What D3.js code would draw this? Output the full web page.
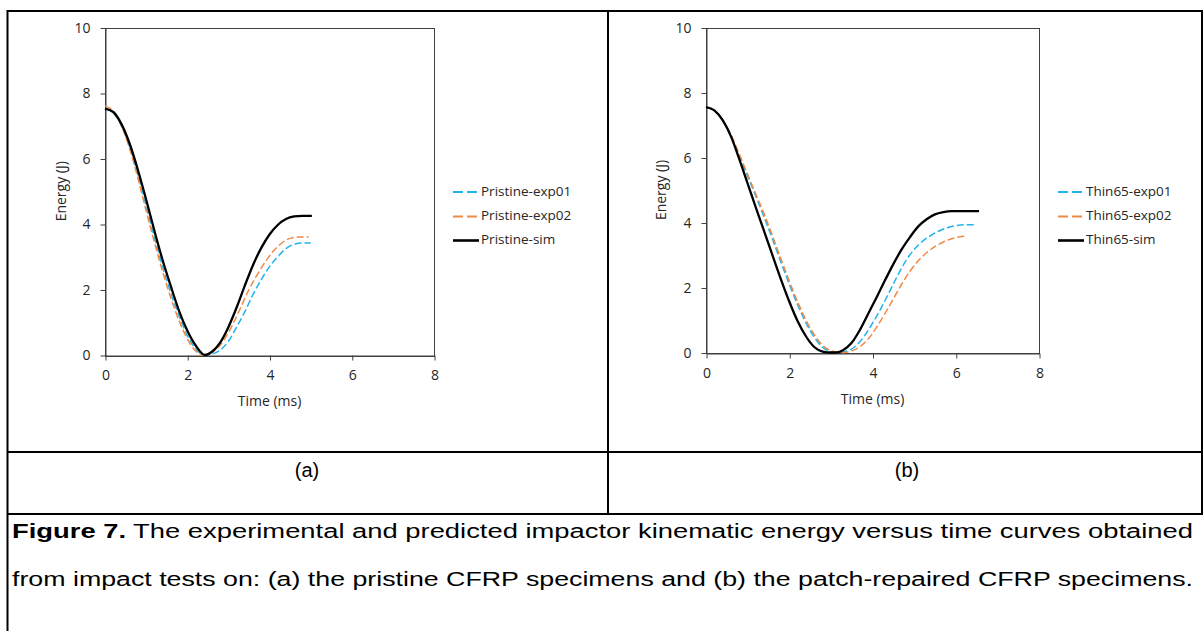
<!DOCTYPE html>
<html>
<head>
<meta charset="utf-8">
<script src="https://cdn.jsdelivr.net/npm/d3@7"></script>
<style>
  body { margin: 0; background: #fff; }
  svg { display: block; }
</style>
</head>
<body>
<script>
const width = 1203, height = 631;

// ---- data ----
const xTicks = [0, 2, 4, 6, 8];
const yTicks = [0, 2, 4, 6, 8, 10];

// (a) pristine specimens
const pristineExp01T = [0, 0.2, 0.4, 0.6, 0.8, 1.0, 1.2, 1.4, 1.6, 1.8, 2.0, 2.2, 2.4, 2.6, 2.8, 3.0, 3.2, 3.4, 3.6, 3.8, 4.0, 4.2, 4.4, 4.6, 4.8, 5.0];
const pristineExp01E = [7.52, 7.4, 7.0, 6.35, 5.5, 4.55, 3.6, 2.7, 1.9, 1.2, 0.6, 0.2, 0.0, 0.03, 0.15, 0.42, 0.85, 1.32, 1.85, 2.3, 2.7, 3.0, 3.25, 3.38, 3.42, 3.42];
const pristineExp02T = [0, 0.2, 0.4, 0.6, 0.8, 1.0, 1.2, 1.4, 1.6, 1.8, 2.0, 2.2, 2.35, 2.5, 2.7, 2.9, 3.1, 3.3, 3.5, 3.7, 3.9, 4.1, 4.3, 4.5, 4.7, 4.95];
const pristineExp02E = [7.6, 7.45, 7.0, 6.3, 5.4, 4.4, 3.45, 2.55, 1.75, 1.05, 0.5, 0.13, 0.0, 0.03, 0.17, 0.47, 0.92, 1.45, 2.0, 2.45, 2.85, 3.18, 3.42, 3.56, 3.6, 3.6];
const pristineSimT = [0, 0.2, 0.4, 0.6, 0.8, 1.0, 1.2, 1.4, 1.6, 1.8, 2.0, 2.2, 2.43, 2.6, 2.8, 3.0, 3.2, 3.4, 3.6, 3.8, 4.0, 4.2, 4.4, 4.6, 4.8, 5.03];
const pristineSimE = [7.52, 7.42, 7.05, 6.45, 5.65, 4.75, 3.8, 2.9, 2.1, 1.35, 0.75, 0.3, 0.0, 0.1, 0.38, 0.85, 1.45, 2.12, 2.75, 3.27, 3.68, 3.97, 4.15, 4.23, 4.25, 4.25];

// (b) patch-repaired specimens
const thinExp01T = [0, 0.2, 0.4, 0.6, 0.8, 1.0, 1.2, 1.4, 1.6, 1.8, 2.0, 2.2, 2.4, 2.6, 2.8, 3.0, 3.2, 3.4, 3.6, 3.8, 4.0, 4.2, 4.4, 4.6, 4.8, 5.0, 5.2, 5.4, 5.6, 5.8, 6.0, 6.2, 6.46];
const thinExp01E = [7.55, 7.45, 7.15, 6.68, 6.05, 5.42, 4.8, 4.15, 3.48, 2.78, 2.1, 1.47, 0.92, 0.47, 0.16, 0.02, 0.0, 0.05, 0.2, 0.5, 0.9, 1.35, 1.85, 2.36, 2.82, 3.17, 3.42, 3.6, 3.74, 3.84, 3.9, 3.93, 3.93];
const thinExp02T = [0, 0.2, 0.4, 0.6, 0.8, 1.0, 1.2, 1.4, 1.6, 1.8, 2.0, 2.2, 2.4, 2.6, 2.8, 3.0, 3.2, 3.34, 3.5, 3.7, 3.9, 4.1, 4.3, 4.5, 4.7, 4.9, 5.1, 5.3, 5.5, 5.7, 5.9, 6.1, 6.26];
const thinExp02E = [7.55, 7.45, 7.15, 6.7, 6.1, 5.48, 4.86, 4.25, 3.58, 2.88, 2.2, 1.56, 1.0, 0.55, 0.22, 0.06, 0.0, 0.0, 0.05, 0.18, 0.42, 0.78, 1.2, 1.65, 2.1, 2.5, 2.82, 3.07, 3.26, 3.4, 3.5, 3.56, 3.58];
const thinSimT = [0, 0.2, 0.4, 0.6, 0.8, 1.0, 1.2, 1.4, 1.6, 1.8, 2.0, 2.2, 2.4, 2.6, 2.8, 3.0, 3.14, 3.3, 3.5, 3.7, 3.9, 4.1, 4.3, 4.5, 4.7, 4.9, 5.1, 5.3, 5.5, 5.7, 5.9, 6.56];
const thinSimE = [7.55, 7.45, 7.15, 6.65, 5.95, 5.2, 4.45, 3.72, 2.98, 2.25, 1.57, 0.97, 0.5, 0.17, 0.03, 0.0, 0.0, 0.08, 0.3, 0.7, 1.2, 1.7, 2.22, 2.72, 3.17, 3.55, 3.88, 4.1, 4.25, 4.32, 4.35, 4.35];

const seriesNames = [
    ["Pristine-exp01", "Pristine-exp02", "Pristine-sim"],
    ["Thin65-exp01", "Thin65-exp02", "Thin65-sim"]
];
const panelLabels = ["(a)", "(b)"];
const captionBold = "Figure 7.";
const captionLine1 = " The experimental and predicted impactor kinematic energy versus time curves obtained";
const captionLine2 = "from impact tests on: (a) the pristine CFRP specimens and (b) the patch-repaired CFRP specimens.";

// ---- styles ----
const seriesStyles = [
    { color: "#1fb4ec", width: 1.5, dash: "7,3", legendDash: "10,4" },
    { color: "#ef8a44", width: 1.5, dash: "7,3", legendDash: "10,4" },
    { color: "#000000", width: 2.3, dash: null, legendDash: null }
];
const fontChart = "'Open Sans', 'DejaVu Sans', sans-serif";
const fontDoc = "'Liberation Sans', Arial, sans-serif";
const axisColor = "#404040";
const textColor = "#262626";

const zip = (t, e) => t.map((v, i) => [v, e[i]]);

const panels = [
    {
        left: 105, right: 434, top: 27.5, bottom: 355,
        series: [zip(pristineExp01T, pristineExp01E), zip(pristineExp02T, pristineExp02E), zip(pristineSimT, pristineSimE)],
        names: seriesNames[0],
        legendX: 453, legendY: [192, 216.5, 240.5],
        yTitleX: 62, xTitleY: 402
    },
    {
        left: 706, right: 1039, top: 27.5, bottom: 352.5,
        series: [zip(thinExp01T, thinExp01E), zip(thinExp02T, thinExp02E), zip(thinSimT, thinSimE)],
        names: seriesNames[1],
        legendX: 1058, legendY: [192, 216.5, 240.5],
        yTitleX: 662, xTitleY: 400
    }
];

const svg = d3.select("body")
    .append("svg")
    .attr("width", width)
    .attr("height", height);

svg.append("rect").attr("width", width).attr("height", height).attr("fill", "#fff");

// ---- table grid ----
const grid = svg.append("g").attr("stroke", "#000").attr("stroke-width", 2);
grid.append("line").attr("x1", 7).attr("x2", 1203).attr("y1", 11).attr("y2", 11);       // top
grid.append("line").attr("x1", 7.5).attr("x2", 7.5).attr("y1", 10).attr("y2", 631);     // left
grid.append("line").attr("x1", 608).attr("x2", 608).attr("y1", 10).attr("y2", 514);     // middle divider
grid.append("line").attr("x1", 1202).attr("x2", 1202).attr("y1", 10).attr("y2", 514);   // right
grid.append("line").attr("x1", 7).attr("x2", 1203).attr("y1", 452).attr("y2", 452);
grid.append("line").attr("x1", 7).attr("x2", 1203).attr("y1", 514).attr("y2", 514);

// ---- charts ----
panels.forEach((p, pi) => {
    const x = d3.scaleLinear().domain([0, 8]).range([p.left, p.right]);
    const y = d3.scaleLinear().domain([0, 10]).range([p.bottom, p.top]);
    const g = svg.append("g");

    // plot area frame
    g.append("rect")
        .attr("x", Math.round(p.left) + 0.5).attr("y", Math.round(p.top) + 0.5)
        .attr("width", Math.round(p.right - p.left)).attr("height", Math.round(p.bottom - p.top))
        .attr("fill", "none").attr("stroke", axisColor).attr("stroke-width", 1);

    const xAxis = g.append("g")
        .attr("transform", `translate(0.5,${Math.round(p.bottom) + 0.5})`)
        .call(d3.axisBottom(x).tickValues(xTicks).tickSize(5).tickSizeOuter(0).tickPadding(10));
    const yAxis = g.append("g")
        .attr("transform", `translate(${Math.round(p.left) + 0.5},0.5)`)
        .call(d3.axisLeft(y).tickValues(yTicks).tickSize(5).tickSizeOuter(0).tickPadding(10));
    [xAxis, yAxis].forEach(a => {
        a.select(".domain").attr("stroke", axisColor);
        a.selectAll(".tick line").attr("stroke", axisColor);
        a.selectAll(".tick text").attr("fill", textColor).style("font-family", fontChart).style("font-size", "14px");
    });

    // axis titles
    g.append("text")
        .attr("x", (p.left + p.right) / 2).attr("y", p.xTitleY)
        .attr("text-anchor", "middle").attr("dominant-baseline", "middle")
        .style("font-family", fontChart).style("font-size", "14px").attr("fill", textColor)
        .text("Time (ms)");
    g.append("text")
        .attr("transform", `translate(${p.yTitleX},${(p.top + p.bottom) / 2}) rotate(-90)`)
        .attr("text-anchor", "middle").attr("dominant-baseline", "middle")
        .style("font-family", fontChart).style("font-size", "14px").attr("fill", textColor)
        .text("Energy (J)");

    // curves
    const line = d3.line()
        .x(d => x(d[0]))
        .y(d => y(d[1]))
        .curve(d3.curveMonotoneX);
    p.series.forEach((s, si) => {
        const st = seriesStyles[si];
        g.append("path")
            .datum(s)
            .attr("d", line)
            .attr("fill", "none")
            .attr("stroke", st.color)
            .attr("stroke-width", st.width)
            .attr("stroke-dasharray", st.dash);
    });

    // legend
    p.names.forEach((name, si) => {
        const st = seriesStyles[si];
        const ly = p.legendY[si];
        g.append("line")
            .attr("x1", p.legendX).attr("x2", p.legendX + 26)
            .attr("y1", ly).attr("y2", ly)
            .attr("stroke", st.color).attr("stroke-width", st.width + 0.3)
            .attr("stroke-dasharray", st.legendDash);
        g.append("text")
            .attr("x", p.legendX + 28).attr("y", ly)
            .attr("dominant-baseline", "middle")
            .style("font-family", fontChart).style("font-size", "13.5px").attr("fill", textColor)
            .text(name);
    });

    // panel label row
    svg.append("text")
        .attr("x", pi === 0 ? 307 : 907).attr("y", 472)
        .attr("text-anchor", "middle").attr("dominant-baseline", "middle")
        .style("font-family", fontDoc).style("font-size", "20px").attr("fill", "#000")
        .text(panelLabels[pi]);
});

// ---- caption (stretched to the column width) ----
const capLeft = 12, capRight = 1193;
function justified(yPos, parts) {
    const t = svg.append("text")
        .attr("x", capLeft).attr("y", yPos)
        .attr("dominant-baseline", "middle")
        .attr("textLength", capRight - capLeft)
        .attr("lengthAdjust", "spacingAndGlyphs")
        .style("font-family", fontDoc).style("font-size", "20px").attr("fill", "#000");
    parts.forEach(pt => t.append("tspan").attr("font-weight", pt.bold ? "bold" : null).text(pt.text));
}
justified(533, [{ text: captionBold, bold: true }, { text: captionLine1 }]);
justified(581, [{ text: captionLine2 }]);
</script>
</body>
</html>
